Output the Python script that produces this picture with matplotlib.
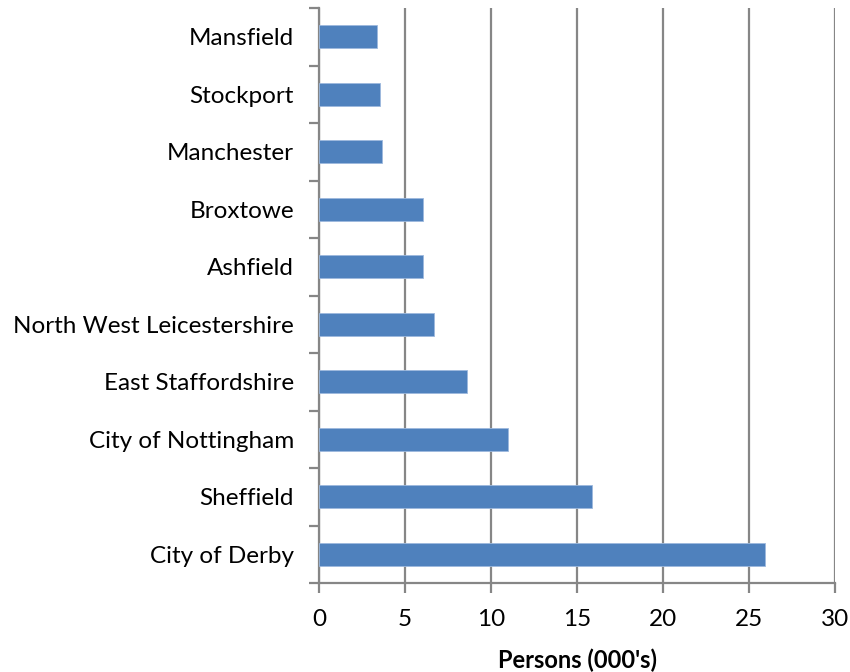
import matplotlib
matplotlib.use("Agg")
import matplotlib.pyplot as plt
import numpy as np

# areas, bottom to top as drawn
areas = [
    "City of Derby",
    "Sheffield",
    "City of Nottingham",
    "East Staffordshire",
    "North West Leicestershire",
    "Ashfield",
    "Broxtowe",
    "Manchester",
    "Stockport",
    "Mansfield",
]
persons = [25.95, 15.85, 10.97, 8.63, 6.67, 6.07, 6.05, 3.68, 3.53, 3.37]

x_ticks = [0, 5, 10, 15, 20, 25, 30]

plt.rcParams["font.family"] = ["Lato", "DejaVu Sans"]

fig = plt.figure(figsize=(8.5, 6.72), dpi=100)
ax = fig.add_axes([319 / 850, (672 - 583) / 672, (835 - 319) / 850, (583 - 8) / 672])

grid_col = "#868686"
y = np.arange(len(areas))
ax.barh(y, persons, height=0.4, color="#4F81BD", edgecolor="#9DB9DD", linewidth=0.6, zorder=3)

ax.set_xlim(0, 30)
ax.set_ylim(-0.5, len(areas) - 0.5)
ax.set_xticks(x_ticks)
ax.xaxis.grid(True, color=grid_col, linewidth=1.6, zorder=0)

ax.set_yticks(y)
ax.set_yticklabels(areas, fontsize=17.5)
ax.set_yticks(np.arange(-0.5, len(areas)), minor=True)
ax.tick_params(axis="y", which="major", length=0, pad=18)
ax.tick_params(axis="y", which="minor", length=7, width=1.6, color=grid_col)
ax.tick_params(axis="x", length=7, width=1.6, color=grid_col, labelsize=17.5, pad=12)

for side in ["top", "right"]:
    ax.spines[side].set_visible(False)
for side in ["left", "bottom"]:
    ax.spines[side].set_color(grid_col)
    ax.spines[side].set_linewidth(1.6)

ax.set_xlabel("Persons (000's)", fontsize=17, fontweight="bold", labelpad=13)

fig.savefig("out.png", dpi=100)
